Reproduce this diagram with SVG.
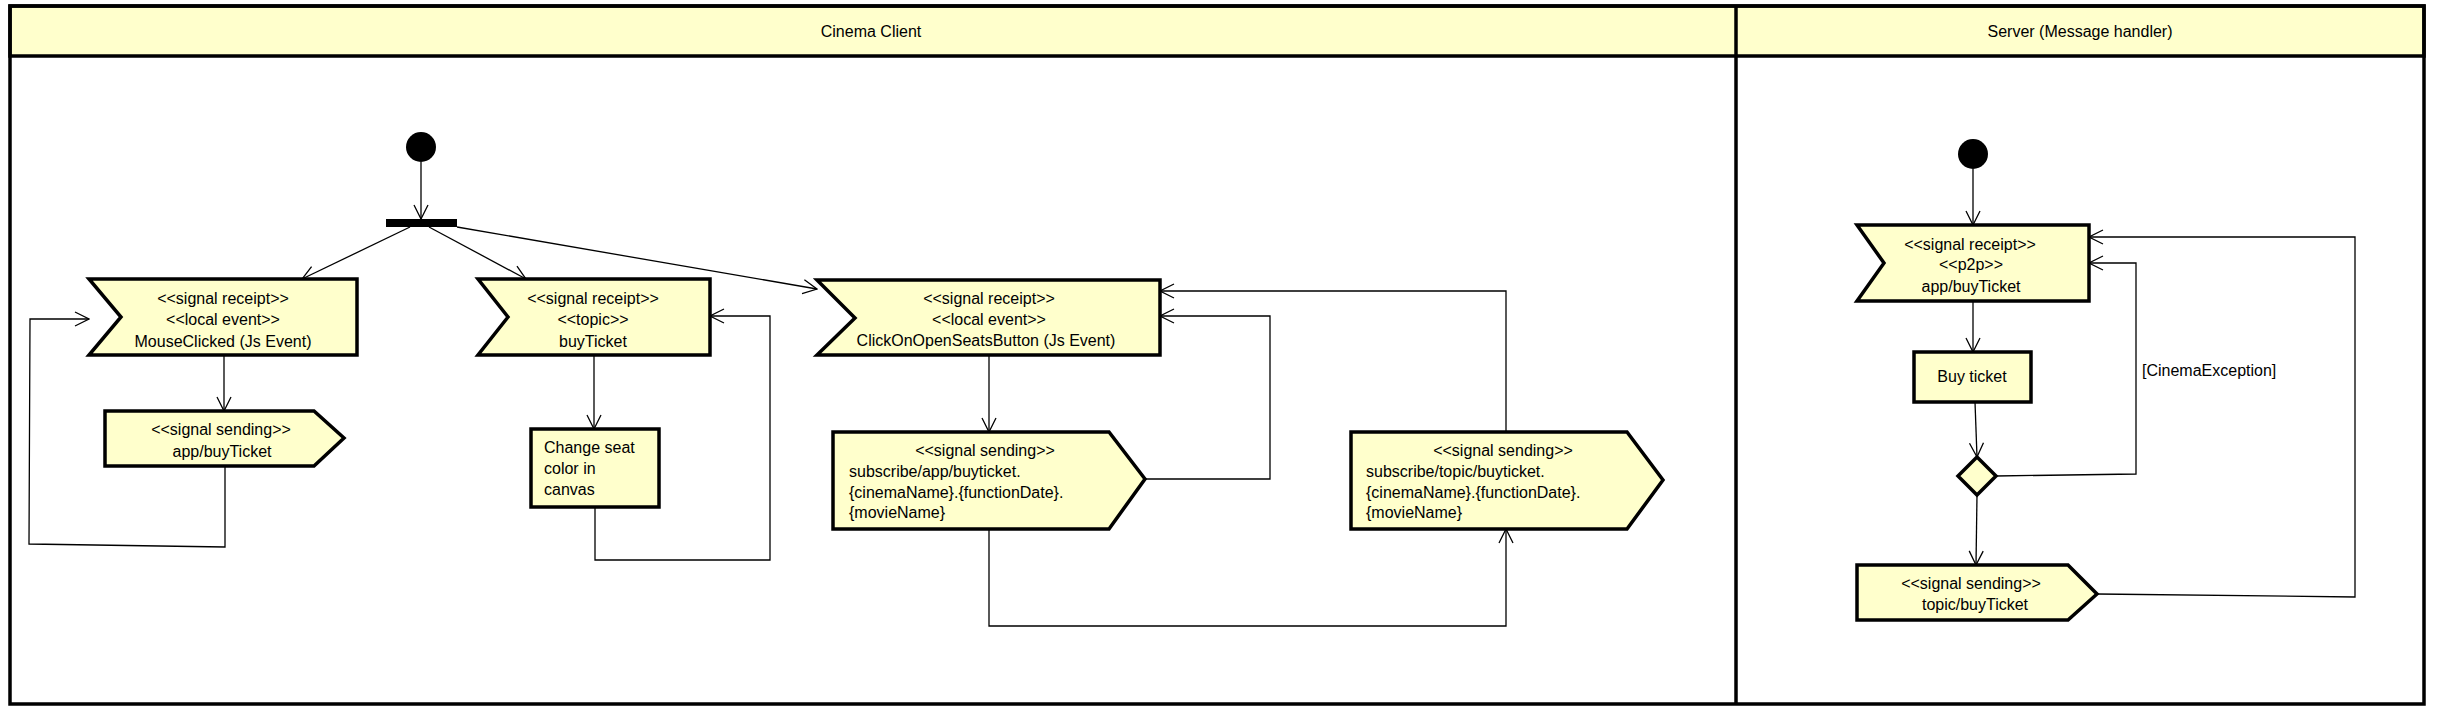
<svg xmlns="http://www.w3.org/2000/svg" width="2437" height="715" viewBox="0 0 2437 715">
<defs>
<style>
.node{fill:#FFFFCC;stroke:#000;stroke-width:3.5;stroke-linejoin:miter}
.lane{fill:none;stroke:#000;stroke-width:3.5}
.hdr{fill:#FFFFCC;stroke:#000;stroke-width:3.5}
.t{font-family:"Liberation Sans",Arial,sans-serif;font-size:16px;fill:#000}
.c{text-anchor:middle}
.conn{fill:none;stroke:#000;stroke-width:1.3}
</style>
<marker id="arr" viewBox="0 0 16 16" refX="15" refY="8" markerWidth="16" markerHeight="16" orient="auto" markerUnits="userSpaceOnUse">
<path d="M1,1 L15,8 L1,15" fill="none" stroke="#000" stroke-width="1.3"/>
</marker>
</defs>
<rect width="2437" height="715" fill="#fff"/>
<g id="swimlanes">
<rect class="hdr" x="10" y="6" width="2414" height="50"/>
<rect class="lane" x="10" y="6" width="2414" height="698"/>
<line class="lane" x1="1736" y1="6" x2="1736" y2="704"/>
<text class="t c" x="871" y="37">Cinema Client</text>
<text class="t c" x="2080" y="37">Server (Message handler)</text>
</g>
<g id="connectors">
<line class="conn" x1="421" y1="162" x2="421" y2="219" marker-end="url(#arr)"/>
<line class="conn" x1="410" y1="227" x2="302" y2="279" marker-end="url(#arr)"/>
<line class="conn" x1="429" y1="227" x2="526" y2="279" marker-end="url(#arr)"/>
<line class="conn" x1="457" y1="227" x2="817" y2="289" marker-end="url(#arr)"/>
<line class="conn" x1="224" y1="355" x2="224" y2="411" marker-end="url(#arr)"/>
<polyline class="conn" points="225,466 225,547 29,544 30,319 89,319" marker-end="url(#arr)"/>
<line class="conn" x1="594" y1="355" x2="594" y2="429" marker-end="url(#arr)"/>
<polyline class="conn" points="595,507 595,560 770,560 770,316 710,316" marker-end="url(#arr)"/>
<line class="conn" x1="989" y1="355" x2="989" y2="432" marker-end="url(#arr)"/>
<polyline class="conn" points="1145,479 1270,479 1270,316 1160,316" marker-end="url(#arr)"/>
<polyline class="conn" points="1506,432 1506,291 1160,291" marker-end="url(#arr)"/>
<polyline class="conn" points="989,529 989,626 1506,626 1506,529" marker-end="url(#arr)"/>
<line class="conn" x1="1973" y1="169" x2="1973" y2="225" marker-end="url(#arr)"/>
<line class="conn" x1="1973" y1="301" x2="1973" y2="352" marker-end="url(#arr)"/>
<line class="conn" x1="1975" y1="402" x2="1977" y2="457" marker-end="url(#arr)"/>
<polyline class="conn" points="1996,476 2136,474 2136,263 2089,263" marker-end="url(#arr)"/>
<line class="conn" x1="1977" y1="495" x2="1976" y2="565" marker-end="url(#arr)"/>
<polyline class="conn" points="2097,594 2355,597 2355,237 2089,237" marker-end="url(#arr)"/>
<text class="t" x="2142" y="376">[CinemaException]</text>
</g>
<g id="client-initial">
<circle cx="421" cy="147" r="15" fill="#000"/>
</g>
<g id="client-fork">
<rect x="386" y="219" width="71" height="8" fill="#000"/>
</g>
<g id="mouse-clicked">
<polygon class="node" points="89,279 357,279 357,355 89,355 121,317"/>
<text class="t c" x="223" y="304">&lt;&lt;signal receipt&gt;&gt;</text>
<text class="t c" x="223" y="325">&lt;&lt;local event&gt;&gt;</text>
<text class="t c" x="223" y="347">MouseClicked (Js Event)</text>
</g>
<g id="send-app-buyticket">
<polygon class="node" points="105,411 314,411 344,438 314,466 105,466"/>
<text class="t c" x="221" y="435">&lt;&lt;signal sending&gt;&gt;</text>
<text class="t c" x="222" y="457">app/buyTicket</text>
</g>
<g id="topic-buyticket">
<polygon class="node" points="478,279 710,279 710,355 478,355 508,317"/>
<text class="t c" x="593" y="304">&lt;&lt;signal receipt&gt;&gt;</text>
<text class="t c" x="593" y="325">&lt;&lt;topic&gt;&gt;</text>
<text class="t c" x="593" y="347">buyTicket</text>
</g>
<g id="change-seat">
<rect class="node" x="531" y="429" width="128" height="78"/>
<text class="t" x="544" y="453">Change seat</text>
<text class="t" x="544" y="474">color in</text>
<text class="t" x="544" y="495">canvas</text>
</g>
<g id="click-open-seats">
<polygon class="node" points="817,280 1160,280 1160,355 817,355 855,318"/>
<text class="t c" x="989" y="304">&lt;&lt;signal receipt&gt;&gt;</text>
<text class="t c" x="989" y="325">&lt;&lt;local event&gt;&gt;</text>
<text class="t c" x="986" y="346">ClickOnOpenSeatsButton (Js Event)</text>
</g>
<g id="send-subscribe-app">
<polygon class="node" points="833,432 1109,432 1145,479 1109,529 833,529"/>
<text class="t c" x="985" y="456">&lt;&lt;signal sending&gt;&gt;</text>
<text class="t" x="849" y="477">subscribe/app/buyticket.</text>
<text class="t" x="849" y="498">{cinemaName}.{functionDate}.</text>
<text class="t" x="849" y="518">{movieName}</text>
</g>
<g id="send-subscribe-topic">
<polygon class="node" points="1351,432 1627,432 1663,480 1627,529 1351,529"/>
<text class="t c" x="1503" y="456">&lt;&lt;signal sending&gt;&gt;</text>
<text class="t" x="1366" y="477">subscribe/topic/buyticket.</text>
<text class="t" x="1366" y="498">{cinemaName}.{functionDate}.</text>
<text class="t" x="1366" y="518">{movieName}</text>
</g>
<g id="server-initial">
<circle cx="1973" cy="154" r="15" fill="#000"/>
</g>
<g id="server-receipt">
<polygon class="node" points="1857,225 2089,225 2089,301 1857,301 1884,263"/>
<text class="t c" x="1970" y="250">&lt;&lt;signal receipt&gt;&gt;</text>
<text class="t c" x="1971" y="270">&lt;&lt;p2p&gt;&gt;</text>
<text class="t c" x="1971" y="292">app/buyTicket</text>
</g>
<g id="buy-ticket">
<rect class="node" x="1914" y="352" width="117" height="50"/>
<text class="t c" x="1972" y="382">Buy ticket</text>
</g>
<g id="decision">
<polygon class="node" points="1977,457 1996,476 1977,495 1958,476"/>
</g>
<g id="server-send">
<polygon class="node" points="1857,565 2068,565 2097,594 2068,620 1857,620"/>
<text class="t c" x="1971" y="589">&lt;&lt;signal sending&gt;&gt;</text>
<text class="t c" x="1975" y="610">topic/buyTicket</text>
</g>
</svg>
